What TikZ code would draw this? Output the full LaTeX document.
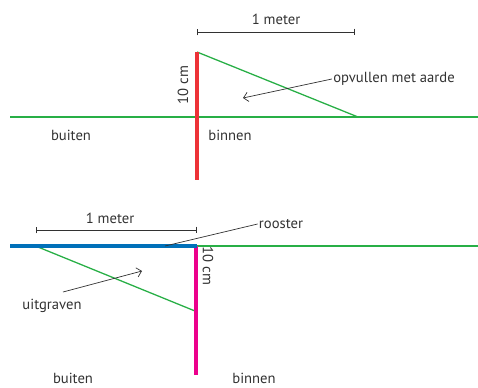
\documentclass[tikz,border=0pt]{standalone}
\usepackage{fontspec}
\setmainfont{PT Sans}
\usepackage{color}
\definecolor{mygrass}{RGB}{40,175,70}
\definecolor{myred}{RGB}{237,50,55}
\definecolor{myblue}{RGB}{0,112,185}
\definecolor{mymagenta}{RGB}{236,0,140}
\definecolor{mytext}{RGB}{50,50,50}
\usepackage{tikz}
\usetikzlibrary{calc,arrows,arrows.meta,positioning}
\tikzstyle{caption}=[text=mytext,font=\fontsize{12.5}{14}\selectfont,inner sep=1pt]
\tikzstyle{ground}=[draw=mygrass,line width=1.1pt]
\tikzstyle{measure}=[draw=mytext,line width=0.7pt,|-|]

\begin{document}
\begin{tikzpicture}[
  x=0.03cm,
  y=-0.03cm,
  wall/.style={line width=3.4pt},
  pointer/.style={draw=mytext,line width=0.6pt,-{Straight Barb[length=4pt,width=8pt]}}
]
\useasboundingbox (0,0) rectangle (478,387);

% bovenste situatie
\coordinate (gl1) at (10,117);
\coordinate (gr1) at (478,117);
\coordinate (wt1) at (197,52);
\coordinate (wb1) at (197,180);
\coordinate (gs1) at (358,117);
\coordinate (ml1) at (197,32);
\coordinate (mr1) at (355,32);
\draw [measure] (ml1) -- (mr1);
\draw [ground] (gl1) -- (gr1);
\draw [ground] (wt1) -- (gs1);
\draw [wall, myred] (wt1) -- (wb1);
\node [caption] (meter1) at (276,19) {1 meter};
\node [caption, rotate=90] (cm1) at (183,85) {10 cm};
\node [caption] (fill) at (394,79) {opvullen met aarde};
\coordinate (fillend) at (243,98);
\draw [pointer] (fill.west) -- (fillend);
\node [caption] (out1) at (71,135) {buiten};
\node [caption] (in1) at (230,135) {binnen};

% onderste situatie
\coordinate (gl2) at (10,246);
\coordinate (gm2) at (197,246);
\coordinate (gr2) at (478,246);
\coordinate (wb2) at (196,375);
\coordinate (ds2) at (38,247);
\coordinate (de2) at (195,311);
\coordinate (ml2) at (36,230);
\coordinate (mr2) at (197,230);
\draw [ground] (gm2) -- (gr2);
\draw [ground] (ds2) -- (de2);
\draw [wall, mymagenta] (196,246) -- (wb2);
\draw [line width=4pt, myblue] (gl2) -- (gm2);
\draw [measure] (ml2) -- (mr2);
\node [caption] (meter2) at (110,218) {1 meter};
\node [caption, rotate=-90] (cm2) at (208,266) {10 cm};
\node [caption] (grate) at (281,224) {rooster};
\coordinate (grateend) at (165,246);
\draw [draw=mytext,line width=0.6pt] (grate.west) -- (grateend);
\node [caption] (dig) at (52,306) {uitgraven};
\coordinate (digstart) at (63,292);
\coordinate (digend) at (142,271);
\draw [pointer] (digstart) -- (digend);
\node [caption] (out2) at (73,378) {buiten};
\node [caption] (in2) at (254,378) {binnen};

\end{tikzpicture}
\end{document}
